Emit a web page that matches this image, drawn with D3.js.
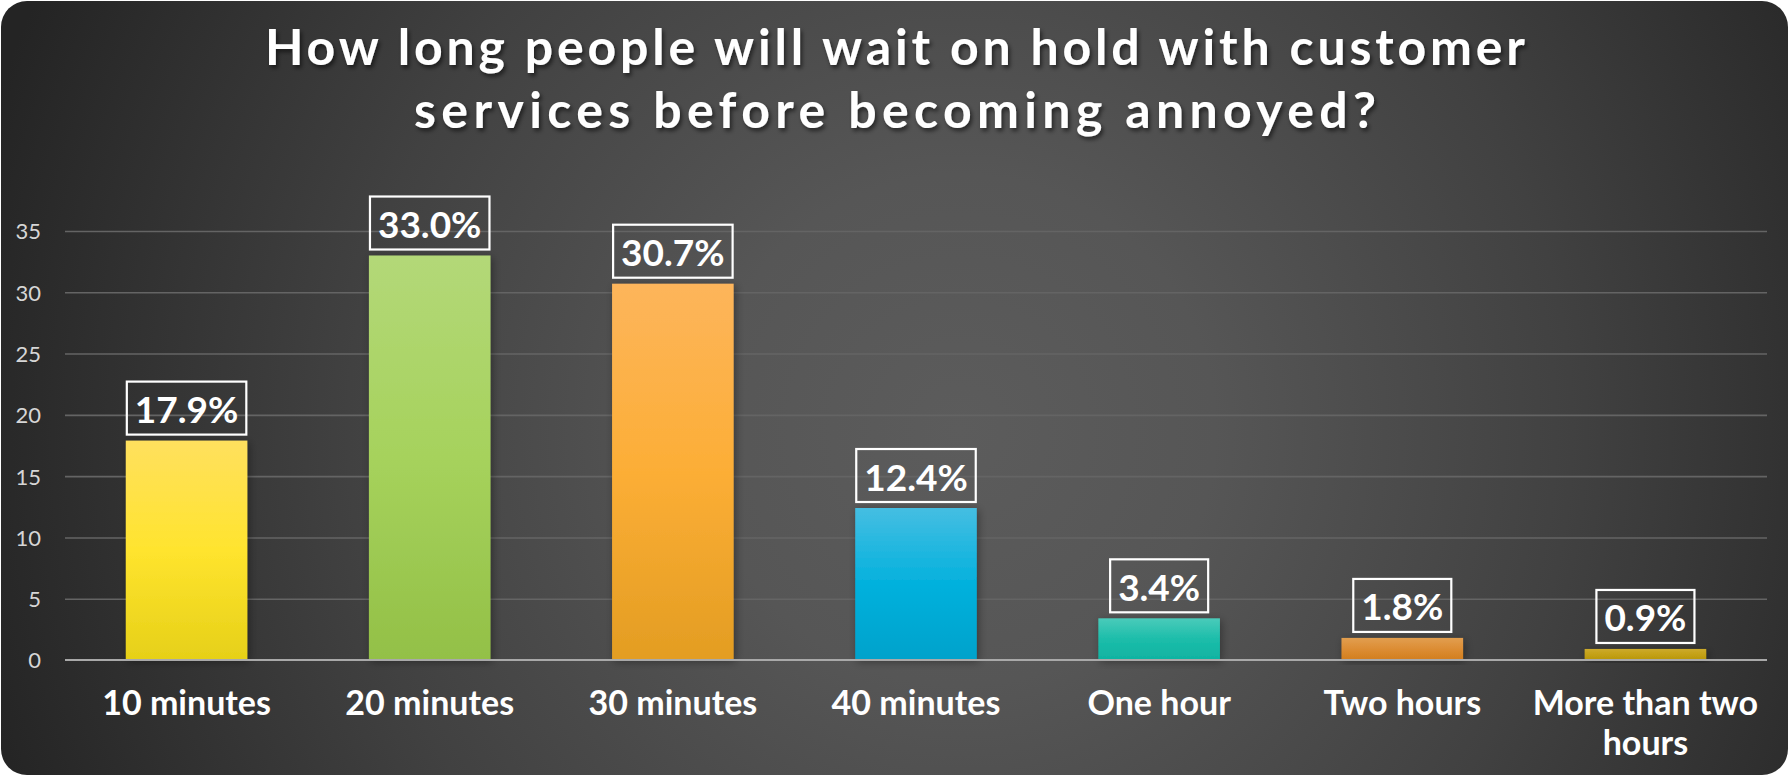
<!DOCTYPE html>
<html>
<head>
<meta charset="utf-8">
<script src="https://cdn.jsdelivr.net/npm/d3@7"></script>
<style>
  html, body { margin: 0; padding: 0; background: #ffffff; }
  svg { display: block; }
  text { font-family: Lato, "Open Sans", sans-serif; }
</style>
</head>
<body>
<svg id="chart" width="1790" height="777"></svg>
<script>
// ---- data ----
const titleLines = ["How long people will wait on hold with customer", "services before becoming annoyed?"];
const categories = ["10 minutes", "20 minutes", "30 minutes", "40 minutes", "One hour", "Two hours", "More than two hours"];
const values = [17.9, 33.0, 30.7, 12.4, 3.4, 1.8, 0.9];
const yTicks = [0, 5, 10, 15, 20, 25, 30, 35];
const yMax = 35;

// ---- styles ----
const barColors = [
  ["#ffe05e", "#ffe42e", "#e6d018"],
  ["#b3d878", "#a6d25c", "#93c047"],
  ["#fdb55b", "#fcae36", "#e39d22"],
  ["#45bee2", "#03b1dd", "#00a2cb"],
  ["#4acbba", "#1cbdaa", "#0fb3a1"],
  ["#e29e50", "#dc8d33", "#d27e1e"],
  ["#ccaa2c", "#c4a116", "#b8960a"]
];

const W = 1790, H = 777;
const svg = d3.select("#chart");
const defs = svg.append("defs");

// background gradient
const bg = defs.append("radialGradient").attr("id", "bgGrad")
  .attr("gradientUnits", "userSpaceOnUse")
  .attr("cx", 960).attr("cy", 430).attr("r", 1020);
[[0, "#5c5c5c"], [0.25, "#565656"], [0.6, "#414141"], [1, "#242424"]].forEach(s =>
  bg.append("stop").attr("offset", s[0]).attr("stop-color", s[1]));

// bar gradients
barColors.forEach((c, i) => {
  const g = defs.append("linearGradient").attr("id", "barGrad" + i)
    .attr("x1", 0).attr("y1", 0).attr("x2", 0).attr("y2", 1);
  g.append("stop").attr("offset", 0).attr("stop-color", c[0]);
  g.append("stop").attr("offset", 0.5).attr("stop-color", c[1]);
  g.append("stop").attr("offset", 1).attr("stop-color", c[2]);
});

// shadows
const fs = defs.append("filter").attr("id", "barShadow")
  .attr("x", "-20%").attr("y", "-20%").attr("width", "140%").attr("height", "140%");
fs.append("feDropShadow").attr("dx", 2).attr("dy", 2).attr("stdDeviation", 4)
  .attr("flood-color", "#000").attr("flood-opacity", 0.35);
const ts = defs.append("filter").attr("id", "titleShadow")
  .attr("x", "-5%").attr("y", "-30%").attr("width", "110%").attr("height", "160%");
ts.append("feDropShadow").attr("dx", 2).attr("dy", 3).attr("stdDeviation", 2)
  .attr("flood-color", "#000").attr("flood-opacity", 0.55);

// panel
svg.append("rect").attr("x", 1).attr("y", 1).attr("width", W - 3).attr("height", H - 3)
  .attr("rx", 26).attr("ry", 26).attr("fill", "url(#bgGrad)");

// title
const titleG = svg.append("g").attr("filter", "url(#titleShadow)");
const titleWidths = [1260, 962];
titleLines.forEach((t, i) => {
  titleG.append("text")
    .attr("x", 895).attr("y", 65 + i * 62.7)
    .attr("text-anchor", "middle")
    .attr("font-size", 50).attr("font-weight", 700)
    .attr("fill", "#ffffff")
    .attr("textLength", titleWidths[i]).attr("lengthAdjust", "spacing")
    .text(t);
});

// scales
const plotL = 65, plotR = 1767, plotB = 660, plotT = 231;
const x = d3.scaleBand().domain(categories).range([plotL, plotR])
  .paddingInner(0.5).paddingOuter(0.25);
const y = d3.scaleLinear().domain([0, yMax]).range([plotB, plotT]);

// gridlines
const grid = svg.append("g").attr("transform", `translate(${plotL},0)`)
  .call(d3.axisLeft(y).tickValues(yTicks.filter(v => v > 0)).tickSize(-(plotR - plotL)).tickFormat(""));
grid.select(".domain").remove();
grid.selectAll("line").attr("stroke", "#646464").attr("stroke-width", 1.6);

// y labels
const yAx = svg.append("g").attr("transform", `translate(41,0)`)
  .call(d3.axisLeft(y).tickValues(yTicks).tickSize(0).tickPadding(0));
yAx.select(".domain").remove();
yAx.selectAll("text").attr("font-size", 22).attr("fill", "#d6d6d6")
  .attr("font-family", "Lato, sans-serif").attr("dy", "0.36em");

// bars
svg.append("g").selectAll("rect").data(values).join("rect")
  .attr("x", (d, i) => x(categories[i]))
  .attr("y", d => y(d))
  .attr("width", x.bandwidth())
  .attr("height", d => y(0) - y(d))
  .attr("fill", (d, i) => `url(#barGrad${i})`)
  .attr("filter", "url(#barShadow)");

// baseline
svg.append("line").attr("x1", plotL).attr("x2", plotR).attr("y1", y(0)).attr("y2", y(0))
  .attr("stroke", "#a9a9a9").attr("stroke-width", 2.2);

// x axis labels
const xAx = svg.append("g").attr("transform", `translate(0,${plotB})`)
  .call(d3.axisBottom(x).tickSize(0).tickPadding(0));
xAx.select(".domain").remove();
xAx.selectAll("text")
  .attr("font-size", 34).attr("font-weight", 700).attr("fill", "#ffffff")
  .attr("font-family", "Lato, sans-serif")
  .attr("dy", null).attr("y", 55)
  .each(function () {
    const t = d3.select(this);
    const words = t.text().split(" ");
    const maxW = 240;
    t.text(null);
    let line = [];
    let tspan = t.append("tspan").attr("x", 0).attr("y", 55);
    let lineNo = 0;
    words.forEach(w => {
      line.push(w);
      tspan.text(line.join(" "));
      if (tspan.node().getComputedTextLength() > maxW && line.length > 1) {
        line.pop();
        tspan.text(line.join(" "));
        line = [w];
        lineNo++;
        tspan = t.append("tspan").attr("x", 0).attr("y", 55 + lineNo * 40).text(w);
      }
    });
  });

// value labels
const lab = svg.append("g").selectAll("g").data(values).join("g");
lab.each(function (d, i) {
  const g = d3.select(this);
  const cx = x(categories[i]) + x.bandwidth() / 2;
  const boxBottom = y(d) - 6;
  const txt = g.append("text")
    .attr("x", cx).attr("y", boxBottom - 11.5)
    .attr("text-anchor", "middle")
    .attr("font-size", 37).attr("font-weight", 700).attr("fill", "#ffffff")
    .text(d3.format(".1f")(d) + "%");
  const tw = txt.node().getComputedTextLength();
  g.insert("rect", "text")
    .attr("x", cx - tw / 2 - 8).attr("y", boxBottom - 53)
    .attr("width", tw + 16).attr("height", 53)
    .attr("fill", "none").attr("stroke", "#ffffff").attr("stroke-width", 2.2);
});
</script>
</body>
</html>
